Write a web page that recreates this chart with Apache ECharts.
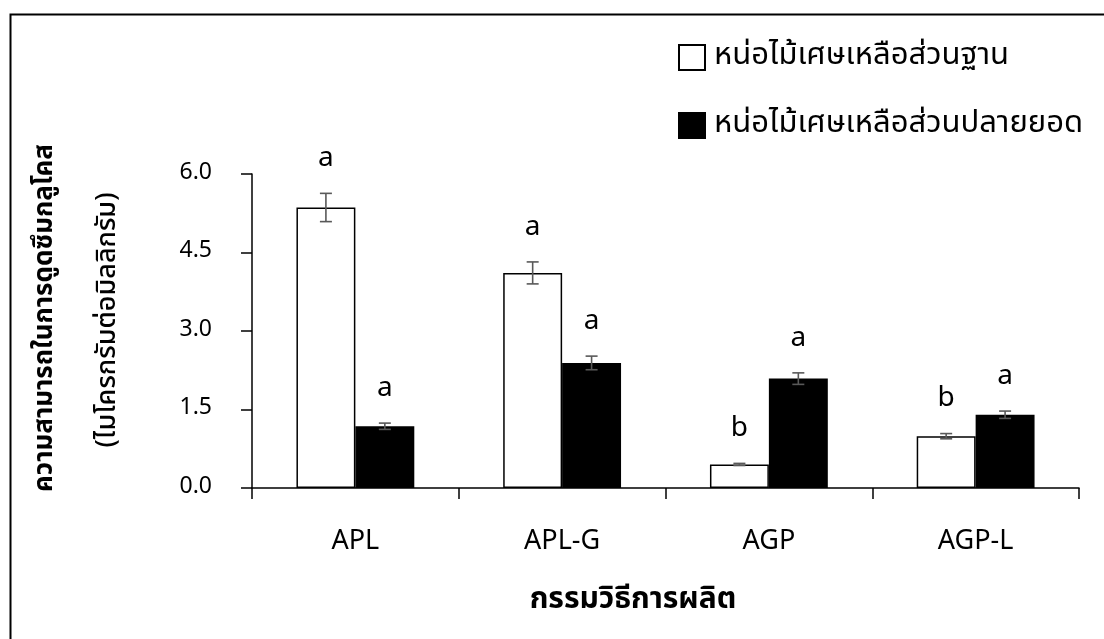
<!DOCTYPE html>
<html>
<head>
<meta charset="utf-8">
<script src="https://cdn.jsdelivr.net/npm/echarts@6/dist/echarts.min.js"></script>
<style>
  html, body { margin: 0; padding: 0; background: #fff; }
  #chart { width: 1104px; height: 639px; }
</style>
</head>
<body>
<div id="chart"></div>
<script>
// กรรมวิธีการผลิต
var categories = ['APL', 'APL-G', 'AGP', 'AGP-L']
var seriesNames = ['หน่อไม้เศษเหลือส่วนฐาน', 'หน่อไม้เศษเหลือส่วนปลายยอด']
var baseValues = [5.36, 4.11, 0.45, 0.99]
var baseErrors = [0.27, 0.21, 0.02, 0.05]
var baseLetters = ['a', 'a', 'b', 'b']
var tipValues = [1.18, 2.39, 2.09, 1.40]
var tipErrors = [0.06, 0.13, 0.11, 0.07]
var tipLetters = ['a', 'a', 'a', 'a']
var yTicks = [0, 1.5, 3.0, 4.5, 6.0]

var FONT = '"Noto Sans Thai", "Noto Sans", "DejaVu Sans", sans-serif'
var GAP = 0.43

function errData(vals, errs) {
  return vals.map(function (v, i) { return [i, v - errs[i], v + errs[i]] })
}

function errRender(side, letters) {
  return function (params, api) {
    var i = api.value(0)
    var band = api.size([1, 0])[0]
    var off = side * band * (1 - GAP) / 4
    var top = api.coord([i, api.value(2)])
    var bot = api.coord([i, api.value(1)])
    var x = top[0] + off
    var style = { stroke: '#595959', lineWidth: 1.6 }
    return {
      type: 'group',
      children: [
        { type: 'line', shape: { x1: x, y1: top[1], x2: x, y2: bot[1] }, style: style },
        { type: 'line', shape: { x1: x - 6, y1: top[1], x2: x + 6, y2: top[1] }, style: style },
        { type: 'line', shape: { x1: x - 6, y1: bot[1], x2: x + 6, y2: bot[1] }, style: style },
        {
          type: 'text',
          x: x, y: top[1] - 33,
          style: {
            text: letters[params.dataIndex], fill: '#000',
            font: '28px ' + FONT, align: 'center', verticalAlign: 'middle'
          }
        }
      ]
    }
  }
}

var chart = echarts.init(document.getElementById('chart'))
chart.setOption({
  animation: false,
  backgroundColor: '#fff',
  textStyle: { fontFamily: FONT },
  grid: { left: 252, right: 25, top: 174, bottom: 151 },
  legend: {
    orient: 'vertical',
    left: 673, top: 37,
    itemWidth: 26, itemHeight: 25, itemGap: 37,
    icon: 'rect',
    textStyle: { fontSize: 31, color: '#000', padding: [0, 0, 0, 4] },
    data: seriesNames
  },
  graphic: [
    {
      type: 'rect', left: 8, top: 12, silent: true,
      shape: { width: 1110, height: 640 },
      style: { fill: 'none', stroke: '#000', lineWidth: 2 }
    },
    {
      type: 'text', x: 47, y: 318, rotation: Math.PI / 2,
      style: {
        text: 'ความสามารถในการดูดซึมกลูโคส', fill: '#000',
        font: 'bold 26px ' + FONT, align: 'center', verticalAlign: 'middle'
      }
    },
    {
      type: 'text', x: 110, y: 320, rotation: Math.PI / 2,
      style: {
        text: '(ไมโครกรัมต่อมิลลิกรัม)', fill: '#000',
        font: '500 27px ' + FONT, align: 'center', verticalAlign: 'middle'
      }
    },
    {
      type: 'text', x: 633, y: 602,
      style: {
        text: 'กรรมวิธีการผลิต', fill: '#000',
        font: 'bold 30px ' + FONT, align: 'center', verticalAlign: 'middle'
      }
    }
  ],
  xAxis: {
    type: 'category',
    data: categories,
    axisLine: { lineStyle: { color: '#000', width: 1.5 } },
    axisTick: { show: true, length: 11, lineStyle: { color: '#000', width: 1.5 } },
    axisLabel: { margin: 42, fontSize: 27, color: '#000' }
  },
  yAxis: {
    type: 'value',
    min: 0, max: 6, interval: 1.5,
    splitLine: { show: false },
    axisLine: { show: true, lineStyle: { color: '#000', width: 1.5 } },
    axisTick: { show: true, length: 11, lineStyle: { color: '#000', width: 1.5 } },
    axisLabel: {
      margin: 40, fontSize: 23, color: '#000',
      formatter: function (v) { return v.toFixed(1) }
    }
  },
  series: [
    {
      name: seriesNames[0], type: 'bar', data: baseValues,
      barGap: '0%', barCategoryGap: (GAP * 100) + '%',
      itemStyle: { color: '#fff', borderColor: '#000', borderWidth: 1.5 }
    },
    {
      name: seriesNames[1], type: 'bar', data: tipValues,
      itemStyle: { color: '#000', borderColor: '#000', borderWidth: 1.5 }
    },
    {
      type: 'custom', renderItem: errRender(-1, baseLetters),
      data: errData(baseValues, baseErrors), z: 5
    },
    {
      type: 'custom', renderItem: errRender(1, tipLetters),
      data: errData(tipValues, tipErrors), z: 5
    }
  ]
})
</script>
</body>
</html>
